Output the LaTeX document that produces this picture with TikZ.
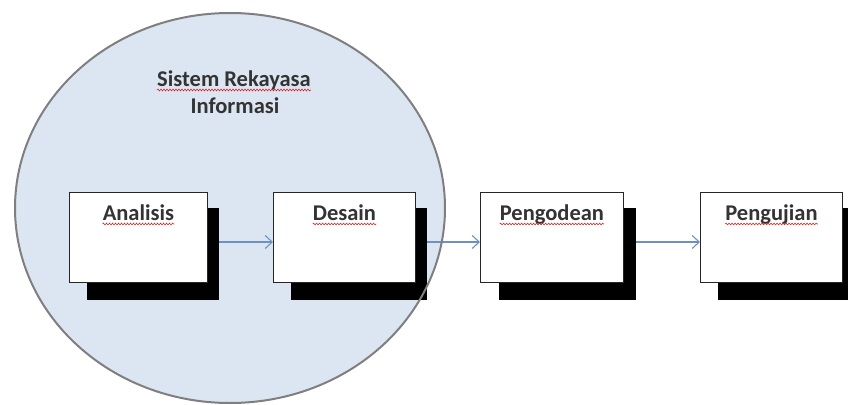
\documentclass[tikz,border=0pt]{standalone}
\usepackage{fontspec}
\setmainfont{Carlito}
\usetikzlibrary{arrows.meta,shapes.geometric,decorations.pathmorphing}

\definecolor{sysfill}{HTML}{DCE6F2}
\definecolor{sysline}{HTML}{7F7F7F}
\definecolor{flowblue}{HTML}{6E91C2}
\definecolor{spellred}{HTML}{D02020}

\tikzset{
  systemarea/.style={ellipse, fill=sysfill, inner sep=0pt,
    minimum width=430pt, minimum height=390pt},
  systemedge/.style={draw=sysline, line width=2pt},
  shadowbox/.style={rectangle, fill=black, inner sep=0pt,
    minimum height=92pt, anchor=north west},
  stagebox/.style={rectangle, draw=black!85, line width=0.9pt, fill=white,
    inner sep=0pt, minimum height=90pt, anchor=north west},
  label/.style={font=\fontsize{22.5}{27}\selectfont\bfseries, text=black!80,
    inner sep=0pt, anchor=base},
  flow/.style={draw=flowblue, line width=1.1pt,
    -{Straight Barb[length=7pt,width=13pt,line width=1.1pt]}},
  squiggle/.style={draw=spellred, line width=0.55pt,
    decorate, decoration={snake, amplitude=0.9pt, segment length=3pt}}
}

\begin{document}
\begin{tikzpicture}[x=1pt,y=-1pt]
  \useasboundingbox (0,0) rectangle (848,404);
  \clip (0,0) rectangle (848,404);

  % system area behind the first two stages
  \node[systemarea] (sys) at (230,208) {};

  % drop shadows
  \node[shadowbox, minimum width=132pt] (ana-s)  at (87,208)  {};
  \node[shadowbox, minimum width=136pt] (des-s)  at (291,208) {};
  \node[shadowbox, minimum width=137pt] (pen-s)  at (499,208) {};
  \node[shadowbox, minimum width=136pt] (uji-s)  at (718,208) {};

  % stage boxes
  \node[stagebox, minimum width=138pt] (ana) at (69,192)  {};
  \node[stagebox, minimum width=142pt] (des) at (273,192) {};
  \node[stagebox, minimum width=143pt] (pen) at (480,192) {};
  \node[stagebox, minimum width=142pt] (uji) at (700,192) {};

  % stage names
  \node[label] (ana-t) at ([yshift=-28pt]ana.north) {Analisis};
  \node[label] (des-t) at ([yshift=-28pt]des.north) {Desain};
  \node[label] (pen-t) at ([yshift=-28pt]pen.north) {Pengodean};
  \node[label] (uji-t) at ([yshift=-28pt]uji.north) {Pengujian};

  % title of the system area
  \node[label] (sys-t1) at (234,86)  {Sistem Rekayasa};
  \node[label] (sys-t2) at (235,113) {Informasi};

  % spell-check underlines
  \foreach \n in {ana-t,des-t,pen-t,uji-t,sys-t1}
    \draw[squiggle] ([yshift=-4pt]\n.base west) -- ([yshift=-4pt]\n.base east);

  % flow between stages
  \coordinate (lane) at (0,242);
  \draw[flow] (ana-s.east |- lane) -- (des.west |- lane);
  \draw[flow] (des-s.east |- lane) -- (pen.west |- lane);
  \draw[flow] (pen-s.east |- lane) -- (uji.west |- lane);

  % outline of the system area, on top
  \draw[systemedge] (sys.center) ellipse [x radius=215pt, y radius=195pt];
\end{tikzpicture}
\end{document}
